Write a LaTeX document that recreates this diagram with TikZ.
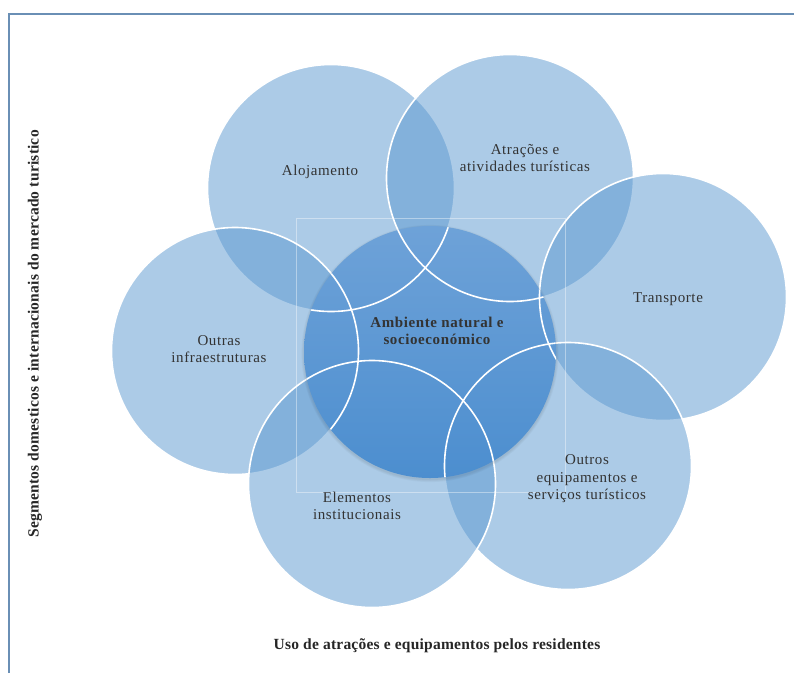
\documentclass[tikz,border=0pt]{standalone}
\usepackage{fontspec}
\setmainfont{Liberation Serif}
\newfontfamily\spacedserif[LetterSpace=4]{Liberation Serif}
\newfontfamily\spacedaxis[LetterSpace=1.5]{Liberation Serif}
\definecolor{frameblue}{HTML}{6A8FB5}
\definecolor{petal}{RGB}{91,153,209}
\definecolor{ctop}{RGB}{110,162,216}
\definecolor{cbot}{RGB}{76,142,207}
\definecolor{txt}{HTML}{333333}
\begin{document}
\begin{tikzpicture}[x=1pt,y=-1pt,
  petal/.style={circle, minimum size=247pt, inner sep=0pt, fill=petal, fill opacity=0.5, draw=white, line width=1.6pt},
  outline/.style={draw=white, line width=1.6pt},
  lbl/.style={text=txt, align=center, font=\spacedserif\fontsize{15}{17.5}\selectfont},
  blbl/.style={text=txt, align=center, font=\spacedserif\fontsize{15}{17.5}\selectfont\bfseries},
  axislbl/.style={text=black!85, align=center, font=\spacedaxis\fontsize{15.5}{18}\selectfont\bfseries}
]
\useasboundingbox (0,0) rectangle (794,673);
\fill[white] (0,0) rectangle (794,673);

% frame
\coordinate (frA) at (9,673);
\coordinate (frB) at (9,14);
\coordinate (frC) at (794,14);
\draw[frameblue, line width=1.8pt] (frA) -- (frB) -- (frC);

% petals
\node[petal] (aloj)   at (331,188) {};
\node[petal] (atr)    at (510,178) {};
\node[petal] (transp) at (663,297) {};
\node[petal] (outeq)  at (568,466) {};
\node[petal] (outinf) at (235,351) {};
\node[petal] (elem)   at (372,484) {};

% faint square
\node[draw=white, draw opacity=0.4, line width=1pt, minimum width=269pt, minimum height=274pt, inner sep=0pt] (sq) at (430.5,355) {};

% soft shadow of the centre circle
\coordinate (shc) at (430,353.5);
\foreach \r in {126.5pt,127.2pt,127.9pt,128.6pt} {
  \fill[black, opacity=0.025] (shc) circle (\r);
}
% centre circle
\node[circle, minimum size=252pt, inner sep=0pt, top color=ctop, bottom color=cbot] (amb) at (430,352) {};

% crisp petal outlines over the centre
\begin{scope}
  \clip (amb.center) circle (126pt);
  \foreach \p in {aloj,atr,transp,outeq,outinf,elem} {
    \draw[outline] (\p.center) circle (123.5pt);
  }
\end{scope}

% labels
\node[lbl] (t-aloj)   at (320,172) {Alojamento};
\node[lbl] (t-atr)    at (525,158) {Atrações e\\atividades turísticas};
\node[lbl] (t-transp) at (668,299) {Transporte};
\node[lbl] (t-outeq)  at (587,479) {Outros\\equipamentos e\\serviços turísticos};
\node[lbl] (t-outinf) at (219,349) {Outras\\infraestruturas};
\node[lbl] (t-elem)   at (357,506) {Elementos\\institucionais};
\node[blbl] (t-amb)   at (437,331) {Ambiente natural e\\socioeconómico};

% axis labels
\node[axislbl] (xlab) at (437,646) {Uso de atrações e equipamentos pelos residentes};
\node[axislbl, rotate=90] (ylab) at (35,334) {Segmentos domesticos e internacionais do mercado turistico};
\end{tikzpicture}
\end{document}
